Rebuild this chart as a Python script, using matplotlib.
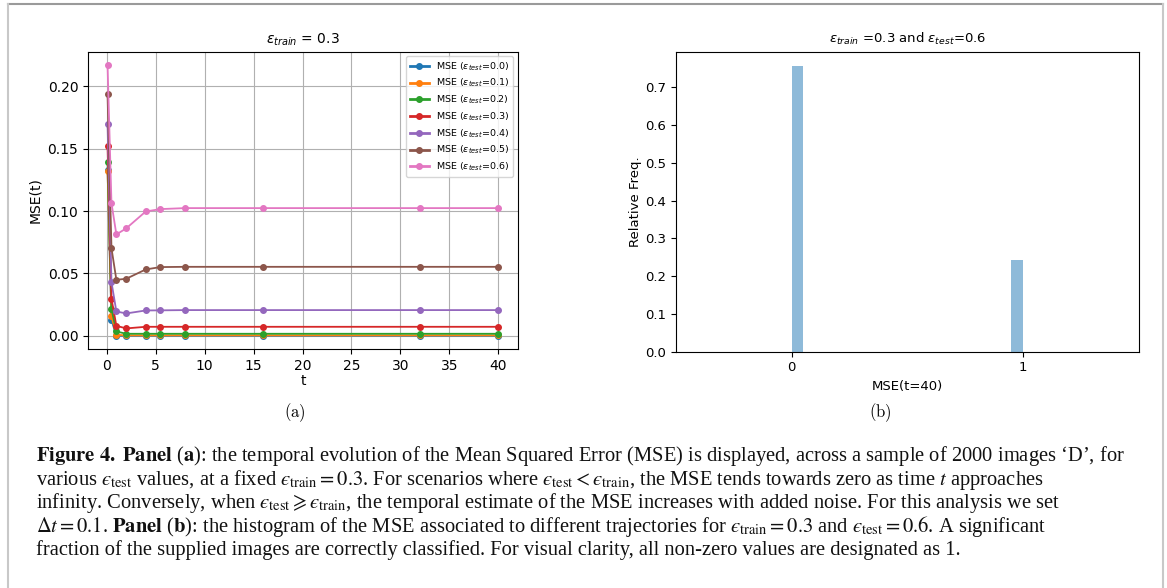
import matplotlib
matplotlib.use("Agg")
import matplotlib.pyplot as plt
from matplotlib.lines import Line2D

# ---------------- data ----------------
t_values = [0.1, 0.5, 1, 2, 4, 5.5, 8, 16, 32, 40]
eps_test = ["0.0", "0.1", "0.2", "0.3", "0.4", "0.5", "0.6"]
mse_e00 = [0.1330, 0.0126, 0.0000, 0.0000, 0.0000, 0.0000, 0.0000, 0.0000, 0.0000, 0.0000]
mse_e01 = [0.1324, 0.0155, 0.0008, 0.0003, 0.0003, 0.0003, 0.0003, 0.0003, 0.0003, 0.0003]
mse_e02 = [0.1396, 0.0214, 0.0035, 0.0016, 0.0016, 0.0016, 0.0016, 0.0016, 0.0016, 0.0016]
mse_e03 = [0.1520, 0.0297, 0.0080, 0.0059, 0.0072, 0.0072, 0.0072, 0.0072, 0.0072, 0.0072]
mse_e04 = [0.1698, 0.0430, 0.0195, 0.0179, 0.0203, 0.0204, 0.0206, 0.0206, 0.0206, 0.0206]
mse_e05 = [0.1936, 0.0703, 0.0449, 0.0457, 0.0532, 0.0551, 0.0553, 0.0553, 0.0553, 0.0553]
mse_e06 = [0.2170, 0.1064, 0.0813, 0.0861, 0.0997, 0.1016, 0.1024, 0.1024, 0.1024, 0.1024]
series = [mse_e00, mse_e01, mse_e02, mse_e03, mse_e04, mse_e05, mse_e06]
colors = ["tab:blue", "tab:orange", "tab:green", "tab:red", "tab:purple", "tab:brown", "tab:pink"]

hist_mse_values = [0, 1]
hist_rel_freq = [0.757, 0.243]

W, H = 1167, 588
fig = plt.figure(figsize=(W / 100, H / 100), dpi=100)

def ax_rect(x0, x1, y0, y1):
    return [x0 / W, 1 - y1 / H, (x1 - x0) / W, (y1 - y0) / H]

# ---------------- panel (a) ----------------
ax1 = fig.add_axes(ax_rect(88, 518, 51.7, 349.3))
for s, e, c in zip(series, eps_test, colors):
    ax1.plot(t_values, s, marker="o", markersize=4, linewidth=1.3, color=c,
             label=r"MSE ($\epsilon_{test}$=" + e + ")")
ax1.grid(True)
ax1.set_xlabel("t", fontsize=10, labelpad=1)
ax1.set_ylabel("MSE(t)", fontsize=10)
ax1.set_title(r"$\epsilon_{train}$ = 0.3", fontsize=10)
ax1.tick_params(labelsize=10)
ax1.set_yticks([0.0, 0.05, 0.10, 0.15, 0.20])
leg = ax1.legend(loc="upper right", fontsize=6.8, handlelength=2.0,
                 labelspacing=0.45)
for h in leg.legend_handles:
    h.set_linewidth(2)

# ---------------- panel (b) ----------------
ax2 = fig.add_axes(ax_rect(676, 1138.5, 51.7, 351.7))
ax2.hist(hist_mse_values, bins=20, range=(0, 1), weights=hist_rel_freq,
         color="tab:blue", alpha=0.5)
ax2.set_xlim(-0.5, 1.5)
ax2.set_xticks([0, 1])
ax2.set_xlabel("MSE(t=40)", fontsize=9.5)
ax2.set_ylabel("Relative Freq.", fontsize=9.5, labelpad=2)
ax2.set_title(r"$\epsilon_{train}$ =0.3 and $\epsilon_{test}$=0.6", fontsize=9.5)
ax2.tick_params(labelsize=9.5)

# ---------------- sub-labels ----------------
fig.text(295 / W, 1 - 413 / H, r"$\mathrm{(a)}$", math_fontfamily="cm",
         fontsize=12, ha="center", va="center")
fig.text(880 / W, 1 - 413 / H, r"$\mathrm{(b)}$", math_fontfamily="cm",
         fontsize=12, ha="center", va="center")

# ---------------- caption ----------------
cap_lines = [
    r"$\mathbf{Figure\ 4.\ Panel}$ ($\mathbf{a}$): the temporal evolution of the Mean Squared Error (MSE) is displayed, across a sample of 2000 images ‘D’, for",
    r"various $ϵ_{\mathrm{test}}$ values, at a fixed $ϵ_{\mathrm{train}} = 0.3$. For scenarios where $ϵ_{\mathrm{test}} < ϵ_{\mathrm{train}}$, the MSE tends towards zero as time $t$ approaches",
    r"infinity. Conversely, when $ϵ_{\mathrm{test}} \geqslant ϵ_{\mathrm{train}}$, the temporal estimate of the MSE increases with added noise. For this analysis we set",
    r"$\Delta t = 0.1$. $\mathbf{Panel}$ ($\mathbf{b}$): the histogram of the MSE associated to different trajectories for $ϵ_{\mathrm{train}} = 0.3$ and $ϵ_{\mathrm{test}} = 0.6$. A significant",
    r"fraction of the supplied images are correctly classified. For visual clarity, all non-zero values are designated as 1.",
]
baselines = [461, 485, 508, 532, 555]
for line, yb in zip(cap_lines, baselines):
    fig.text(36 / W, 1 - yb / H, line, family="Liberation Serif",
             math_fontfamily="stix", fontsize=14.8, ha="left", va="baseline",
             color="#111111")

# ---------------- page frame ----------------
fig.add_artist(Line2D([8 / W, 1163 / W], [1 - 4 / H, 1 - 4 / H],
                      transform=fig.transFigure, color="#9a9a9a", lw=1.5))
fig.add_artist(Line2D([8 / W, 8 / W], [0, 1 - 4 / H],
                      transform=fig.transFigure, color="#c8c8c8", lw=1.5))
fig.add_artist(Line2D([1163 / W, 1163 / W], [0, 1 - 4 / H],
                      transform=fig.transFigure, color="#c8c8c8", lw=1.5))

fig.savefig("out.png", dpi=100)
